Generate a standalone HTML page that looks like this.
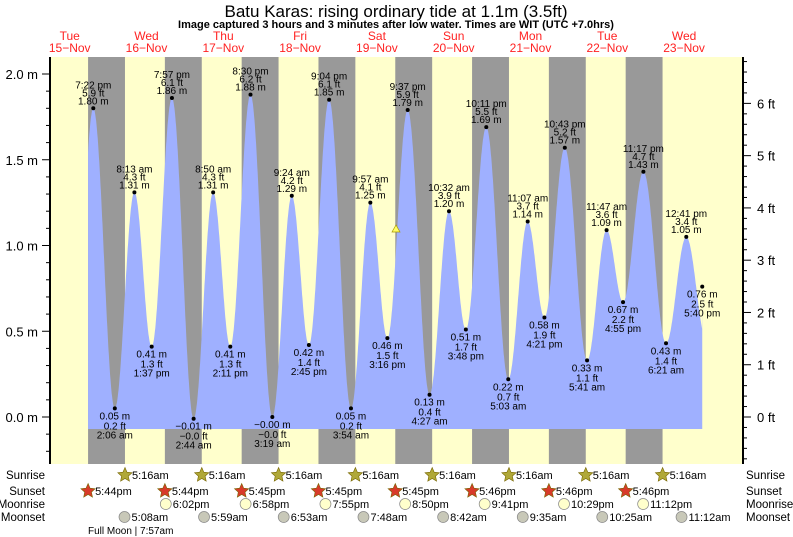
<!DOCTYPE html>
<html><head><meta charset="utf-8"><style>
html,body{margin:0;padding:0;background:#fff;width:793px;height:537px;overflow:hidden}
svg{display:block;font-family:"Liberation Sans",Arial,sans-serif}
</style></head><body>
<svg id="s" width="793" height="537" xmlns="http://www.w3.org/2000/svg">
<text x="396" y="17" font-size="17" text-anchor="middle">Batu Karas: rising  ordinary tide at 1.1m (3.5ft)</text>
<text x="396" y="28" font-size="11" font-weight="bold" text-anchor="middle">Image captured 3 hours and 3 minutes after low water. Times are WIT (UTC +7.0hrs)</text>
<g id="g"></g>
</svg>
<script>
var g=document.getElementById('g'),h='';
function X(t){return 31.3+t*3.2}
function Y(m){return 417-m*171.5}
var T=57,B=464,L=50,R=743;
h+='<rect x="'+L+'" y="'+T+'" width="'+(R-L)+'" height="'+(B-T)+'" fill="#ffffcc"/>';
for(var d=0;d<8;d++){var a=X(17.74+24*d),b=X(29.27+24*d);h+='<rect x="'+a+'" y="'+T+'" width="'+(b-a)+'" height="'+(B-T)+'" fill="#999999"/>';}
var P=[[19.37,1.80],[26.1,0.05],[32.22,1.31],[37.62,0.41],[43.95,1.86],[50.73,-0.01],[56.83,1.31],[62.18,0.41],[68.5,1.88],[75.32,-0.00],[81.4,1.29],[86.75,0.42],[93.07,1.85],[99.9,0.05],[105.95,1.25],[111.27,0.46],[117.62,1.79],[124.45,0.13],[130.53,1.20],[135.8,0.51],[142.18,1.69],[149.05,0.22],[155.12,1.14],[160.35,0.58],[166.72,1.57],[173.68,0.33],[179.78,1.09],[184.92,0.67],[191.28,1.43],[198.35,0.43],[204.68,1.05]];
var pts=[],bot=-0.07,t0=17.74,tEnd=209.67;
pts.push(X(t0)+','+Y(bot));
for(var t=t0;t<=tEnd;t+=0.1){
 var i=0;while(i<P.length-1&&P[i+1][0]<t)i++;
 var a,b;
 if(t<P[0][0]){a=[P[0][0]-6.4,0.1];b=P[0];}
 else if(i>=P.length-1){a=P[P.length-1];b=[a[0]+6.3,0.45];}
 else{a=P[i];b=P[i+1];}
 var f=(t-a[0])/(b[0]-a[0]);var m=a[1]+(b[1]-a[1])*(1-Math.cos(Math.PI*f))/2;
 pts.push(X(t).toFixed(1)+','+Y(m).toFixed(1));
}
pts.push(X(tEnd)+','+Y(0.76));pts.push(X(tEnd)+','+Y(bot));
h+='<polygon points="'+pts.join(' ')+'" fill="#9fb0ff"/>';
var lab=[["7:22 pm","5.9 ft","1.80 m"],["0.05 m","0.2 ft","2:06 am"],["8:13 am","4.3 ft","1.31 m"],["0.41 m","1.3 ft","1:37 pm"],["7:57 pm","6.1 ft","1.86 m"],["−0.01 m","−0.0 ft","2:44 am"],["8:50 am","4.3 ft","1.31 m"],["0.41 m","1.3 ft","2:11 pm"],["8:30 pm","6.2 ft","1.88 m"],["−0.00 m","−0.0 ft","3:19 am"],["9:24 am","4.2 ft","1.29 m"],["0.42 m","1.4 ft","2:45 pm"],["9:04 pm","6.1 ft","1.85 m"],["0.05 m","0.2 ft","3:54 am"],["9:57 am","4.1 ft","1.25 m"],["0.46 m","1.5 ft","3:16 pm"],["9:37 pm","5.9 ft","1.79 m"],["0.13 m","0.4 ft","4:27 am"],["10:32 am","3.9 ft","1.20 m"],["0.51 m","1.7 ft","3:48 pm"],["10:11 pm","5.5 ft","1.69 m"],["0.22 m","0.7 ft","5:03 am"],["11:07 am","3.7 ft","1.14 m"],["0.58 m","1.9 ft","4:21 pm"],["10:43 pm","5.2 ft","1.57 m"],["0.33 m","1.1 ft","5:41 am"],["11:47 am","3.6 ft","1.09 m"],["0.67 m","2.2 ft","4:55 pm"],["11:17 pm","4.7 ft","1.43 m"],["0.43 m","1.4 ft","6:21 am"],["12:41 pm","3.4 ft","1.05 m"]];
P.push([tEnd,0.76]);lab.push(["0.76 m","2.5 ft","5:40 pm"]);
var hiOff=[-20,-12,-4],loOff=[11,21,30];
for(var k=0;k<P.length;k++){var x=X(P[k][0]),y=Y(P[k][1]);h+='<circle cx="'+x+'" cy="'+y+'" r="2" fill="#000"/>';
 var hi=(k%2==0)&&k<P.length-1,s=lab[k];
 for(var j=0;j<3;j++){var yy=y+(hi?hiOff[j]:loOff[j]);h+='<text x="'+x+'" y="'+yy+'" font-size="10" text-anchor="middle">'+s[j]+'</text>';}}
h+='<polygon points="396,225 392,232 400,232" fill="#ffff66" stroke="#aa9900" stroke-width="0.7"/>';
h+='<line x1="'+L+'" y1="'+T+'" x2="'+L+'" y2="'+B+'" stroke="#000" stroke-width="2"/><line x1="'+R+'" y1="'+T+'" x2="'+R+'" y2="'+B+'" stroke="#000" stroke-width="2"/>';
for(var v=-0.2;v<=2.21;v+=0.1){var y=Y(v);if(y<T||y>B)continue;var mj=Math.abs(v*2-Math.round(v*2))<0.01;h+='<line x1="'+(mj?42:46)+'" y1="'+y+'" x2="'+L+'" y2="'+y+'" stroke="#000"/>';if(mj)h+='<text x="38" y="'+(y+5)+'" font-size="13" text-anchor="end">'+v.toFixed(1)+' m</text>';}
for(var f=-1.4;f<=7.01;f+=0.2){var y=417-f*52.27;if(y<T||y>B)continue;var mj=Math.abs(f-Math.round(f))<0.01;h+='<line x1="'+R+'" y1="'+y+'" x2="'+(mj?751:747)+'" y2="'+y+'" stroke="#000"/>';if(mj)h+='<text x="757" y="'+(y+5)+'" font-size="13">'+Math.round(f)+' ft</text>';}
var days=["Tue","Wed","Thu","Fri","Sat","Sun","Mon","Tue","Wed"];
for(var d=0;d<9;d++){var x=X(12+24*d);h+='<text x="'+x+'" y="40" font-size="12" fill="#ff2222" text-anchor="middle">'+days[d]+'</text><text x="'+x+'" y="52" font-size="12" fill="#ff2222" text-anchor="middle">'+(15+d)+'−Nov</text>';}
var rows=[["Sunrise",479],["Sunset",495],["Moonrise",508],["Moonset",521]];
rows.forEach(function(r){h+='<text x="45" y="'+r[1]+'" font-size="11.5" text-anchor="end">'+r[0]+'</text><text x="746" y="'+r[1]+'" font-size="11.5">'+r[0]+'</text>';});
function star(x,y,c){var p=[];for(var i=0;i<10;i++){var a=-Math.PI/2+i*Math.PI/5,rr=i%2?3.5:7.5;p.push((x+rr*Math.cos(a)).toFixed(1)+','+(y+rr*Math.sin(a)).toFixed(1));}return '<polygon points="'+p.join(' ')+'" fill="'+c+'" stroke="#776600" stroke-width="0.6"/>';}
function ev(t,y,txt,kind){var x=X(t);if(kind=='sr')h+=star(x,y-4,'#b0a838');else if(kind=='ss')h+=star(x,y-4,'#d83a2a');else h+='<circle cx="'+x+'" cy="'+(y-4)+'" r="5.5" fill="'+(kind=='mr'?'#ffffcc':'#c8c8b8')+'" stroke="#888" stroke-width="0.7"/>';h+='<text x="'+(x+7)+'" y="'+y+'" font-size="11">'+txt+'</text>';}
for(var d=1;d<=8;d++)ev(5.27+24*d,479,"5:16am","sr");
var ss=["5:44pm","5:44pm","5:45pm","5:45pm","5:45pm","5:46pm","5:46pm","5:46pm"];
for(var d=0;d<8;d++)ev(17.74+24*d,495,ss[d],"ss");
var mr=[[18.03,"6:02pm"],[18.97,"6:58pm"],[19.92,"7:55pm"],[20.83,"8:50pm"],[21.68,"9:41pm"],[22.48,"10:29pm"],[23.2,"11:12pm"]];
mr.forEach(function(m,i){ev(m[0]+24*(i+1),508,m[1],"mr");});
var ms=[[5.13,"5:08am"],[5.98,"5:59am"],[6.88,"6:53am"],[7.8,"7:48am"],[8.7,"8:42am"],[9.58,"9:35am"],[10.42,"10:25am"],[11.2,"11:12am"]];
ms.forEach(function(m,i){ev(m[0]+24*(i+1),521,m[1],"ms");});
h+='<text x="88" y="534" font-size="10">Full Moon | 7:57am</text>';
g.innerHTML=h;
</script>
</body></html>
